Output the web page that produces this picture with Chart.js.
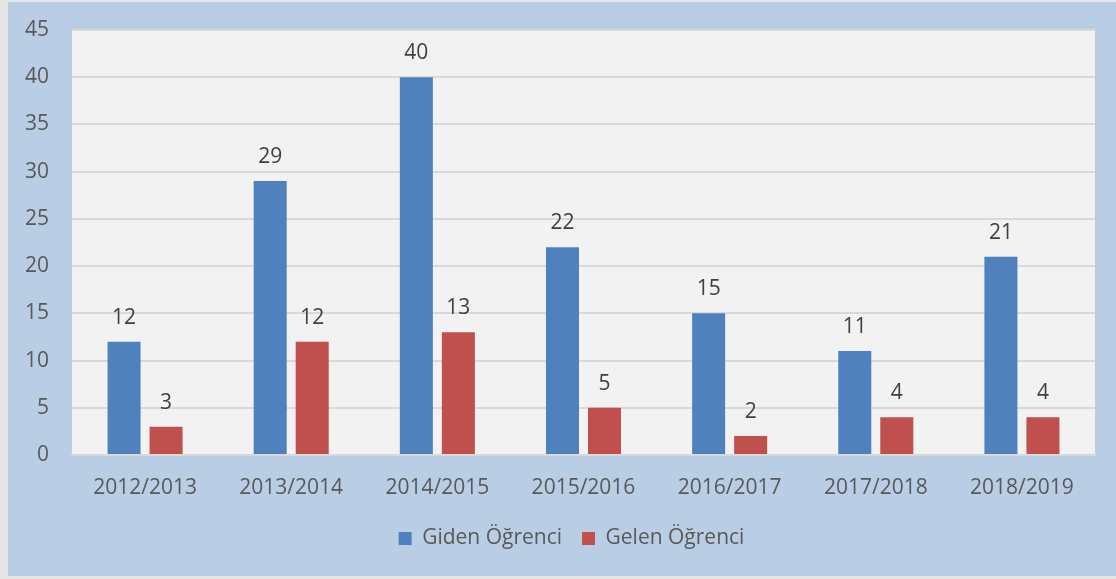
<!DOCTYPE html>
<html lang="en">
<head>
    <meta charset="UTF-8">
    <title>Giden / Gelen Öğrenci</title>
    <script src="https://cdn.jsdelivr.net/npm/chart.js"></script>
    <style>
        body {
            margin: 0;
            background: #e6e6e6;
            width: 1116px;
            height: 579px;
            overflow: hidden;
        }
        .box {
            position: absolute;
            left: 8px;
            top: 2px;
            width: 1108px;
            height: 574px;
            background: #b9cde5;
        }
    </style>
</head>
<body>
    <div class="box">
        <canvas id="chart"></canvas>
    </div>
    <script>
        const years = ['2012/2013', '2013/2014', '2014/2015', '2015/2016', '2016/2017', '2017/2018', '2018/2019'];
        const giden = [12, 29, 40, 22, 15, 11, 21];
        const gelen = [3, 12, 13, 5, 2, 4, 4];
        const yTicks = [0, 5, 10, 15, 20, 25, 30, 35, 40, 45];

        const font = { family: "'Open Sans', sans-serif", size: 21 };

        // light grey plot background
        const plotBg = {
            id: 'plotBg',
            beforeDraw(chart) {
                const a = chart.chartArea;
                const c = chart.ctx;
                c.save();
                c.fillStyle = '#f2f2f2';
                c.fillRect(a.left, a.top, a.right - a.left, a.bottom - a.top);
                c.restore();
            }
        };

        // value labels above the bars
        const valueLabels = {
            id: 'valueLabels',
            afterDatasetsDraw(chart) {
                const c = chart.ctx;
                c.save();
                c.font = '21px "Open Sans", sans-serif';
                c.fillStyle = '#404040';
                c.textAlign = 'center';
                c.textBaseline = 'alphabetic';
                chart.data.datasets.forEach((ds, i) => {
                    chart.getDatasetMeta(i).data.forEach((bar, j) => {
                        c.fillText(ds.data[j], bar.x, bar.y - 18);
                    });
                });
                c.restore();
            }
        };

        // legend sits a bit right of the canvas centre in the original
        const legendShift = {
            id: 'legendShift',
            afterLayout(chart) {
                chart.legend.left += 20;
                chart.legend.right += 20;
            }
        };

        new Chart(document.getElementById('chart'), {
            type: 'bar',
            data: {
                labels: years,
                datasets: [
                    { label: 'Giden Öğrenci', data: giden, backgroundColor: '#4f81bd' },
                    { label: 'Gelen Öğrenci', data: gelen, backgroundColor: '#c0504d' }
                ]
            },
            options: {
                responsive: true,
                maintainAspectRatio: false,
                animation: false,
                layout: { padding: { top: 28, right: 21, bottom: 17, left: 0 } },
                datasets: {
                    bar: { categoryPercentage: 0.575, barPercentage: 0.786 }
                },
                scales: {
                    x: {
                        grid: { display: false },
                        border: { display: true, color: '#d9d9d9', width: 2 },
                        ticks: { color: '#595959', font: font, padding: 12 },
                        afterFit(scale) { scale.height = 53; }
                    },
                    y: {
                        min: 0,
                        max: 45,
                        afterBuildTicks(scale) { scale.ticks = yTicks.map(v => ({ value: v })); },
                        grid: { color: '#d9d9d9', lineWidth: 2, drawTicks: false },
                        border: { display: false },
                        ticks: { color: '#595959', font: font, padding: 23 },
                        afterFit(scale) {
                            scale.width = 64;
                            scale.paddingTop = 0;
                            scale.paddingBottom = 0;
                        }
                    }
                },
                plugins: {
                    legend: {
                        position: 'bottom',
                        labels: {
                            color: '#595959',
                            font: font,
                            boxWidth: 13,
                            boxHeight: 13,
                            padding: 20
                        }
                    },
                    tooltip: { enabled: false }
                }
            },
            plugins: [plotBg, valueLabels, legendShift]
        });
    </script>
</body>
</html>
